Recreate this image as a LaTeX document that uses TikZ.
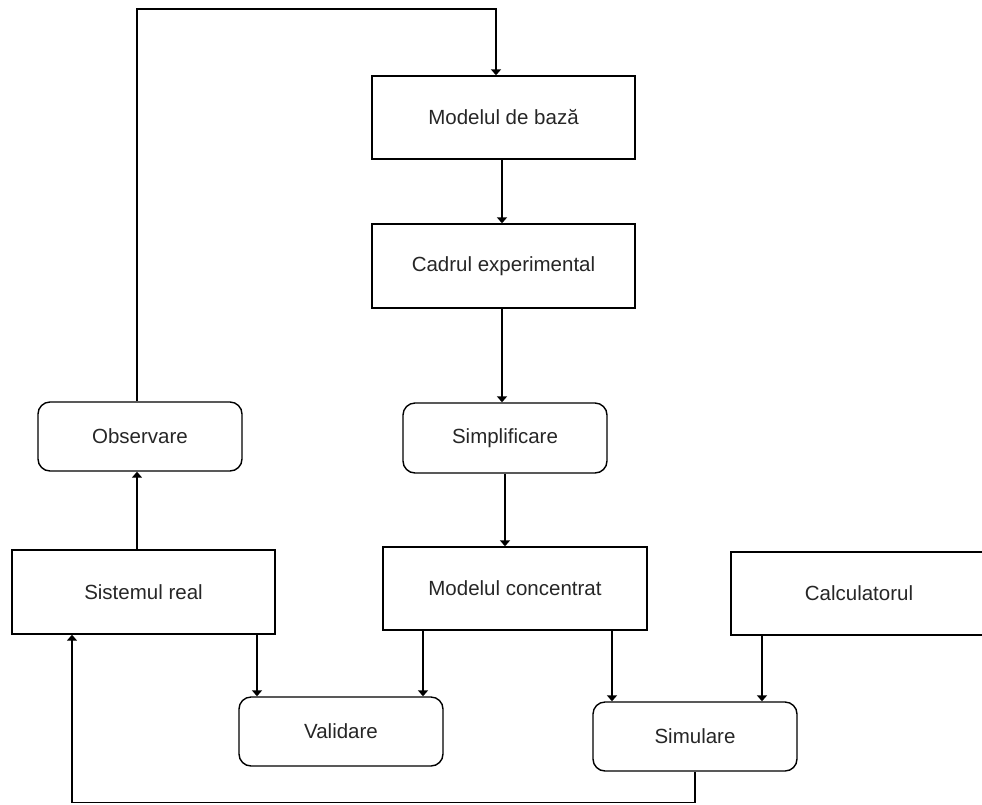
\documentclass[tikz,border=0pt]{standalone}
\usepackage{fontspec}
\setmainfont{Liberation Sans}
\usetikzlibrary{arrows.meta}
\begin{document}
\begin{tikzpicture}[x=1pt,y=-1pt,
  box/.style={draw, line width=1.4pt, inner sep=0pt, text=black!85,
    font=\fontsize{20.5}{24}\selectfont},
  sq/.style={box},
  rnd/.style={box, rounded corners=12pt},
  arr/.style={line width=1.4pt, -{Triangle[width=10pt,length=6pt]}},
  ln/.style={line width=1.4pt}]
\useasboundingbox (0,0) rectangle (982,804);
\clip (0,0) rectangle (982,804);
\node[sq, minimum width=263pt, minimum height=83pt] (base) at (503.5,117.5) {Modelul de bază};
\node[sq, minimum width=263pt, minimum height=84pt] (cadru) at (503.5,266) {Cadrul experimental};
\node[rnd, minimum width=204pt, minimum height=70pt] (simp) at (505,438) {Simplificare};
\node[rnd, minimum width=204pt, minimum height=69pt] (obs) at (140,436.5) {Observare};
\node[sq, minimum width=263pt, minimum height=84pt] (sist) at (143.5,592) {Sistemul real};
\node[sq, minimum width=264pt, minimum height=83pt] (conc) at (515,588.5) {Modelul concentrat};
\node[sq, minimum width=256pt, minimum height=83pt] (calc) at (859,593.5) {Calculatorul};
\node[rnd, minimum width=204pt, minimum height=69pt] (valid) at (341,731.5) {Validare};
\node[rnd, minimum width=204pt, minimum height=69pt] (simul) at (695,736.5) {Simulare};

\coordinate (topc) at (137,9);
\coordinate (botc) at (695,802.5);
\draw[arr] ([xshift=-3pt]obs.north) |- (topc -| 496,0) -- ([xshift=-7.5pt]base.north);
\draw[arr] ([xshift=-1.5pt]base.south) -- ([xshift=-1.5pt]cadru.north);
\draw[arr] ([xshift=-1.5pt]cadru.south) -- ([xshift=-1.5pt]cadru.south |- simp.north);
\draw[arr] (simp.south) -- (simp.south |- conc.north);
\draw[arr] ([xshift=-6.5pt]sist.north) -- ([xshift=-6.5pt]sist.north |- obs.south);
\draw[arr] ([xshift=113.5pt]sist.south) -- ([xshift=113.5pt]sist.south |- valid.north);
\draw[arr] ([xshift=-92pt]conc.south) -- ([xshift=-92pt]conc.south |- valid.north);
\draw[arr] ([xshift=97pt]conc.south) -- ([xshift=97pt]conc.south |- simul.north);
\draw[arr] ([xshift=-97pt]calc.south) -- ([xshift=-97pt]calc.south |- simul.north);
\draw[arr] (simul.south) -- (botc) -| ([xshift=-71.5pt]sist.south);
\end{tikzpicture}
\end{document}
